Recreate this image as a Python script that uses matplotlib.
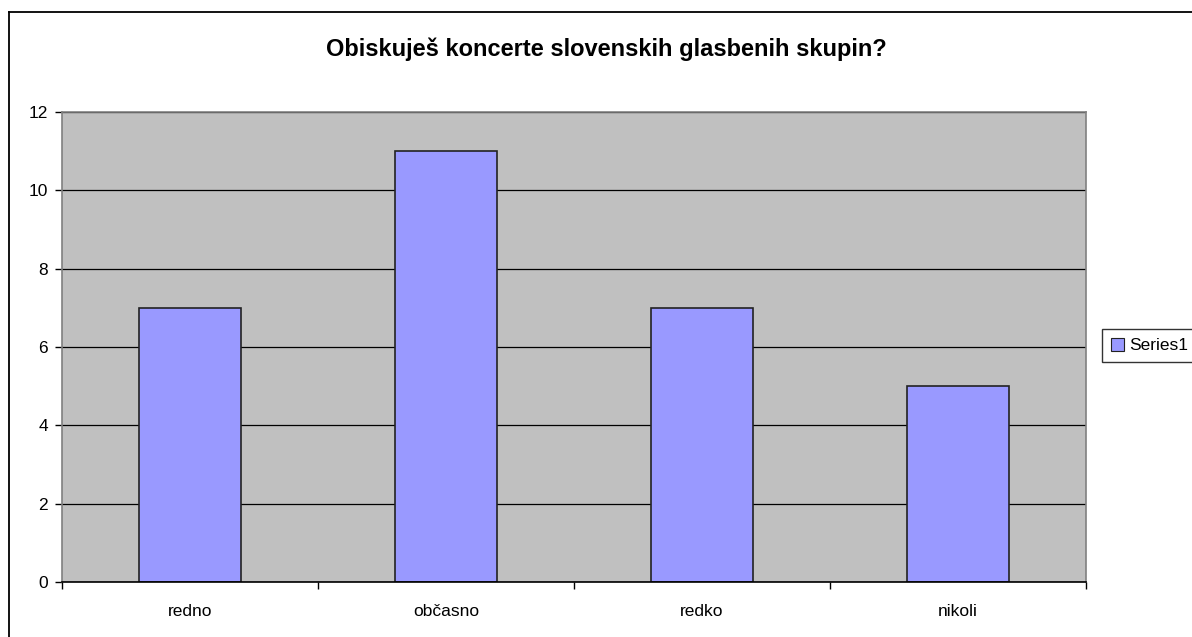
import matplotlib
matplotlib.use("Agg")
import matplotlib.pyplot as plt
from matplotlib.lines import Line2D
from matplotlib.patches import Patch
import numpy as np

categories = ["redno", "občasno", "redko", "nikoli"]
values = [7, 11, 7, 5]
yticks = [0, 2, 4, 6, 8, 10, 12]
title = "Obiskuješ koncerte slovenskih glasbenih skupin?"
series_name = "Series1"

plt.rcParams['font.family'] = ['Liberation Sans', 'DejaVu Sans']

W, H = 1192, 637
fig = plt.figure(figsize=(W/100, H/100), dpi=100)
ax = fig.add_axes([62/W, 1-582/H, (1086-62)/W, (582-112)/H])
ax.set_facecolor('#C0C0C0')

x = np.arange(len(categories))
ax.bar(x, values, width=0.4, color='#9999FF', edgecolor='#222222', linewidth=1.2, zorder=3)
ax.set_xlim(-0.5, len(categories)-0.5)
ax.set_ylim(0, 12)
ax.set_yticks(yticks)
ax.set_yticklabels([str(v) for v in yticks], fontsize=12.5)
ax.yaxis.grid(True, color='black', linewidth=0.9, zorder=1)
ax.set_axisbelow(True)

ax.set_xticks(x)
ax.set_xticklabels(categories, fontsize=12.5)
ax.tick_params(axis='x', which='major', length=0, pad=16)
ax.set_xticks(np.arange(-0.5, len(categories)), minor=True)
ax.tick_params(axis='x', which='minor', length=5, width=1, color='black', direction='out')
ax.tick_params(axis='y', length=5, width=1, color='black', direction='out', pad=5)

for s in ['left', 'top', 'right']:
    ax.spines[s].set_color('#808080')
    ax.spines[s].set_linewidth(1.2)
ax.spines['bottom'].set_color('black')
ax.spines['bottom'].set_linewidth(1.2)
ax.spines['bottom'].set_zorder(4)

fig.text(606/W, 1-49/H, title, ha='center', va='center', fontsize=17, fontweight='bold')

# outer chart border (left and top edges visible)
fig.add_artist(Line2D([8.5/W, 8.5/W], [0, 1-12/H], transform=fig.transFigure, color='black', linewidth=1.3))
fig.add_artist(Line2D([8.5/W, 1], [1-12/H, 1-12/H], transform=fig.transFigure, color='black', linewidth=1.3))

handles = [Patch(facecolor='#9999FF', edgecolor='#222222', linewidth=0.8)]
leg = fig.legend(handles, [series_name], loc='center left', bbox_to_anchor=(1102/W, 1-345.5/H),
                 frameon=True, fancybox=False, edgecolor='black', fontsize=12.5,
                 handlelength=0.75, handleheight=0.75, handletextpad=0.3, borderpad=0.5,
                 borderaxespad=0)
leg.get_frame().set_linewidth(1.0)

fig.savefig("out.png", dpi=100)
